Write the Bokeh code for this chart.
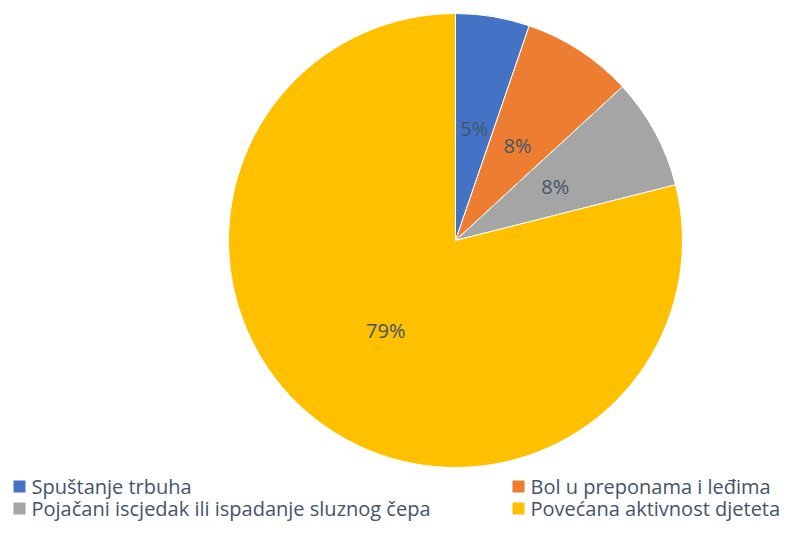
import math
from bokeh.plotting import figure
from bokeh.models import ColumnDataSource
from bokeh.core.properties import value
from bokeh.embed import file_html
from bokeh.resources import INLINE

categories = ["Spuštanje trbuha", "Bol u preponama i leđima",
              "Pojačani iscjedak ili ispadanje sluznog čepa", "Povećana aktivnost djeteta"]
counts = [2, 3, 3, 30]
colors = ["#4472C4", "#ED7D31", "#A5A5A5", "#FFC000"]

W, H = 783, 522
cx, cy, R = 455, H - 240, 227
text_color = "#44546A"
font = "Open Sans"

total = sum(counts)
starts, ends, lx, ly, labels = [], [], [], [], []
cum = 0.0
for c in counts:
    frac = c / total
    a0 = math.pi / 2 - (cum + frac) * 2 * math.pi
    a1 = math.pi / 2 - cum * 2 * math.pi
    starts.append(a0)
    ends.append(a1)
    mid = (a0 + a1) / 2
    lx.append(cx + 0.5 * R * math.cos(mid))
    ly.append(cy + 0.5 * R * math.sin(mid))
    labels.append(f"{round(frac * 100)}%")
    cum += frac

src = ColumnDataSource(dict(start=starts, end=ends, color=colors, lx=lx, ly=ly, label=labels))

p = figure(width=W, height=H, x_range=(0, W), y_range=(0, H),
           output_backend="svg", toolbar_location=None, min_border=0)
p.axis.visible = False
p.grid.visible = False
p.outline_line_color = None
p.background_fill_color = "white"

p.wedge(x=cx, y=cy, radius=R, start_angle="start", end_angle="end",
        fill_color="color", line_color="white", line_width=1, source=src)
p.text(x="lx", y="ly", text="label", source=src, text_align="center",
       text_baseline="middle", text_color=text_color, text_font=value(font),
       text_font_size="20px")

# legend
leg_x = [13, 512, 13, 512]
leg_y = [H - 486, H - 486, H - 508, H - 508]
lsrc = ColumnDataSource(dict(x=[v + 6 for v in leg_x], tx=[v + 18 for v in leg_x],
                             y=leg_y, color=colors, name=categories))
p.rect(x="x", y="y", width=12, height=12, fill_color="color", line_color=None, source=lsrc)
p.text(x="tx", y="y", text="name", source=lsrc, text_align="left", text_baseline="middle",
       text_color=text_color, text_font=value(font), text_font_size="20px")

open("out.html", "w").write(file_html(p, INLINE))
